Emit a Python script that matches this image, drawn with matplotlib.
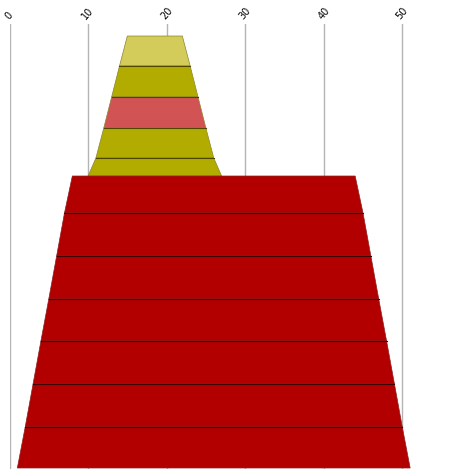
import matplotlib
matplotlib.use('Agg')  # no display
import matplotlib.pyplot as plt

# x ticks shown along the top
ticks = [0, 10, 20, 30, 40, 50]

# small funnel: edges at each boundary (top to bottom), depth of each boundary
small_left = [15, 14, 13, 12, 11, 10]
small_right = [22, 23, 24, 25, 26, 27]
small_depth = [12, 42, 73, 104, 134, 152]
small_colors = ['#d3cc5a', '#b3ac00', '#d25353', '#b3ac00', '#b3ac00']

# big funnel underneath
big_left = [8, 7, 6, 5, 4, 3, 2, 1]
big_right = [44, 45, 46, 47, 48, 49, 50, 51]
big_depth = [152, 189, 232, 275, 317, 360, 403, 444]
big_colors = ['#b20000'] * 7

fig = plt.figure(figsize=(4.52, 4.77), dpi=100)
# plot area runs from px 9.5 to the right edge, px 25 to 469.5 from the top
ax = fig.add_axes([9.5 / 452, 7.5 / 477, 442.5 / 452, 444.5 / 477])
ax.set_xlim(0, 442.5 / 7.856)
ax.set_ylim(444.5, 0)

for s in ax.spines.values():
    s.set_visible(False)
ax.set_yticks([])
ax.set_xticks(ticks)
ax.xaxis.tick_top()
ax.tick_params(axis='x', length=0, pad=3, labelsize=7)
for lab in ax.get_xticklabels():
    lab.set_rotation(50)
    lab.set_ha('center')
ax.grid(axis='x', color='#b4b4b4', linewidth=1)
ax.set_axisbelow(True)


def draw_funnel(left, right, depth, colors, edge, line_color):
    for i, c in enumerate(colors):
        xs = [left[i], right[i], right[i + 1], left[i + 1]]
        ys = [depth[i], depth[i], depth[i + 1], depth[i + 1]]
        ax.fill(xs, ys, color=c, edgecolor=edge, linewidth=0.5, zorder=3)
    # dark separators between the segments
    for i in range(1, len(colors)):
        ax.plot([left[i], right[i]], [depth[i], depth[i]],
                color=line_color, linewidth=0.8, zorder=4)


draw_funnel(small_left, small_right, small_depth, small_colors, '#8a8430', '#4d4700')
draw_funnel(big_left, big_right, big_depth, big_colors, '#8c2020', '#3c0000')

fig.savefig('out.png', dpi=100)
